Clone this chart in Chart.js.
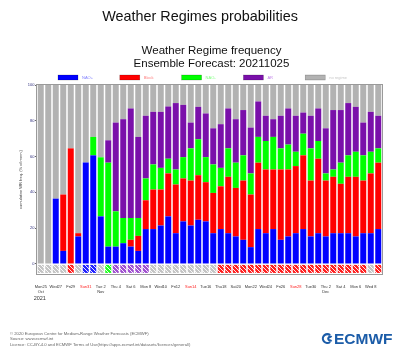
<!DOCTYPE html>
<html><head><meta charset="utf-8">
<script src="https://cdn.jsdelivr.net/npm/chart.js@4.4.1/dist/chart.umd.min.js"></script>
<style>html,body{margin:0;padding:0;background:#fff}</style>
</head><body>
<canvas id="c" width="400" height="360"></canvas>
<script>
// ---- data ----
const days = ['Mon25','Tue26','Wed27','Thu28','Fri29','Sat30','Sun31','Mon 1','Tue 2','Wed 3','Thu 4','Fri 5','Sat 6','Sun 7','Mon 8','Tue 9','Wed10','Thu11','Fri12','Sat13','Sun14','Mon15','Tue16','Wed17','Thu18','Fri19','Sat20','Sun21','Mon22','Tue23','Wed24','Thu25','Fri26','Sat27','Sun28','Mon29','Tue30','Wed 1','Thu 2','Fri 3','Sat 4','Sun 5','Mon 6','Tue 7','Wed 8','Thu 9'];
const monthIndex = [0, 8, 38];
const monthNames = ['Oct', 'Nov', 'Dec'];
const yearLabel = '2021';
const regimeNames = ['NAO+', 'Block', 'NAO-', 'AR', 'no regime'];
const naoPlus  = [0,0,36.5,7.3,0,15.4,56.7,60.7,26.6,9.7,9.7,11.6,9.7,7.3,19.5,19.5,21.5,26.6,17.2,23.8,21.5,24.7,23.8,17.2,19.5,17.2,15.4,13.5,9.4,19.5,17.2,19.5,13.5,15.4,17.2,19.5,15.4,17.2,15.4,17.2,17.2,17.2,15.4,17.2,17.2,19.5];
const block    = [0,0,0,31.5,64.6,1.8,0,0,0,0,0,0,3.8,8.4,16.1,22.1,20.1,24,27.2,24,25.1,24.9,21.9,22.5,23.9,31.5,27.1,33.1,29.4,37.1,35.6,33.3,39.3,37.4,37.5,41.2,31.2,41.6,31.2,31.5,27.6,31.5,33.3,29.4,33.4,37.1];
const naoMinus = [0,0,0,0,0,0,0,10.3,33,46.9,19.7,14.1,12.2,10,12.2,14,12.1,8.2,8.4,11.9,18,20.1,14,15.9,10.3,15.9,14.1,14.1,11.8,14.4,15.9,18.2,11.8,13.9,8,12.1,18,9.9,4,4.1,11.8,12,14,14.1,12.1,8];
const atlRidge = [0,0,0,0,0,0,0,0,0,12.5,49.6,55.2,61.2,45.3,35,29.4,31.3,29.2,37.1,29.2,14.4,18.1,24.4,20.2,24.4,22.3,24.3,25.3,25.6,19.8,14.1,9.9,18.2,20.2,20.1,11.8,18.2,18.2,25.2,33.2,29.4,29.2,25.1,18.3,22.3,18.2];
const noRegime = [100,100,63.5,61.2,35.4,82.8,43.3,29,40.4,30.9,21,19.1,13.1,29,17.2,15,15,12,10.1,11.1,21,12.2,15.9,24.2,21.9,13.1,19.1,14,23.8,9.2,17.2,19.1,17.2,13.1,17.2,15.4,17.2,13.1,24.2,14,14,10.1,12.2,21,15,17.2];
// dominant regime marker shown under each day
const dailyRegime = ['none','none','none','none','Block','none','NAO+','NAO+','none','NAO-','AR','AR','AR','AR','AR','none','none','none','none','none','none','none','none','none','Block','Block','Block','Block','Block','Block','Block','Block','Block','Block','Block','Block','Block','Block','Block','Block','Block','Block','Block','Block','none','Block'];
const yTicks = [0, 20, 40, 60, 80, 100];

// ---- styles ----
Chart.defaults.font.family = "'Liberation Sans', Arial, sans-serif";
const barColors = {'NAO+':'#0000ff','Block':'#ff0000','NAO-':'#00ff00','AR':'#7a10aa','no regime':'#b2b2b2'};
const legendText = {'NAO+':'#8080ff','Block':'#ff8080','NAO-':'#80ff80','AR':'#c080e8','no regime':'#c8c8c8'};
const hatchBase = {'NAO+':'#2020ff','Block':'#ff2020','NAO-':'#20ff20','AR':'#a050d0','none':'#c4c4c4'};

function makePattern(color){
  const p = document.createElement('canvas'); p.width = 4; p.height = 4;
  const g = p.getContext('2d');
  g.fillStyle = color; g.fillRect(0,0,4,4);
  g.strokeStyle = 'rgba(255,255,255,0.9)'; g.lineWidth = 1;
  g.beginPath(); g.moveTo(-1,-1); g.lineTo(5,5); g.moveTo(3,-1); g.lineTo(5,1); g.moveTo(-1,3); g.lineTo(1,5); g.stroke();
  return document.getElementById('c').getContext('2d').createPattern(p,'repeat');
}
const patterns = {};
Object.keys(hatchBase).forEach(k => patterns[k] = makePattern(hatchBase[k]));

const series = [naoPlus, block, naoMinus, atlRidge, noRegime];
const datasets = series.map((d, i) => ({
  label: regimeNames[i], data: d, stack: 'main',
  backgroundColor: barColors[regimeNames[i]], borderWidth: 0,
  barPercentage: 0.8, categoryPercentage: 1.0
}));
datasets.push({
  label: 'marker', data: dailyRegime.map(() => [-5.0, -0.5]), stack: 'strip', grouped: false,
  backgroundColor: dailyRegime.map(r => patterns[r]), borderWidth: 0,
  barPercentage: 0.8, categoryPercentage: 1.0
});

const decor = {
  id: 'decor',
  beforeDraw(chart){ const c = chart.ctx; c.save(); c.fillStyle = '#fff'; c.fillRect(0,0,chart.width,chart.height); c.restore(); },
  afterDraw(chart){
    const c = chart.ctx, a = chart.chartArea;
    c.save();
    // frame
    c.strokeStyle = '#9a9a9a'; c.lineWidth = 1;
    c.strokeRect(a.left - 0.5, a.top - 0.5, a.right - a.left + 1, a.bottom - a.top + 1);
    // titles
    c.fillStyle = '#111'; c.textAlign = 'center'; c.textBaseline = 'alphabetic';
    c.font = "14.4px 'Liberation Sans', Arial, sans-serif";
    c.fillText('Weather Regimes probabilities', 200, 20.5);
    c.font = "11.5px 'Liberation Sans', Arial, sans-serif";
    c.fillText('Weather Regime frequency', 211.5, 53.5);
    c.fillText('Ensemble Forecast: 20211025', 211.5, 66.5);
    // legend
    c.textAlign = 'left'; c.textBaseline = 'middle';
    c.font = "4px 'Liberation Sans', Arial, sans-serif";
    regimeNames.forEach((n, i) => {
      const x = 58 + i * 61.8;
      c.fillStyle = barColors[n]; c.fillRect(x, 75, 20, 5);
      c.strokeStyle = 'rgba(0,0,0,0.35)'; c.lineWidth = 0.5; c.strokeRect(x, 75, 20, 5);
      c.fillStyle = legendText[n]; c.fillText(n, x + 24, 77.7);
    });
    // year
    c.textAlign = 'center'; c.fillStyle = '#333';
    c.font = "5.5px 'Liberation Sans', Arial, sans-serif";
    c.fillText(yearLabel, chart.scales.x.getPixelForValue(0) - 1, 298);
    // footer
    c.textAlign = 'left'; c.textBaseline = 'alphabetic'; c.fillStyle = '#666';
    c.font = "4.2px 'Liberation Sans', Arial, sans-serif";
    c.fillText('\u00a9 2020 European Centre for Medium-Range Weather Forecasts (ECMWF)', 10, 335);
    c.fillText('Source: www.ecmwf.int', 10, 340.3);
    c.fillText('Licence: CC-BY-4.0 and ECMWF Terms of Use(https://apps.ecmwf.int/datasets/licences/general/)', 10, 345.6);
    // logo
    const blue = '#1b5ca8';
    c.strokeStyle = blue; c.lineWidth = 2.2;
    c.beginPath(); c.arc(327.3, 338.6, 4.4, 0.28*Math.PI, 1.72*Math.PI); c.stroke();
    c.beginPath(); c.arc(330.3, 338.6, 2.0, 0.28*Math.PI, 1.72*Math.PI); c.stroke();
    c.fillStyle = blue; c.font = "bold 15.5px 'Liberation Sans', Arial, sans-serif";
    c.fillText('ECMWF', 334, 344.2);
    c.restore();
  }
};

new Chart(document.getElementById('c'), {
  type: 'bar',
  data: { labels: days, datasets },
  plugins: [decor],
  options: {
    responsive: false, animation: false,
    layout: { padding: { top: 85, right: 18, bottom: 0, left: 0 } },
    plugins: { legend: { display: false }, tooltip: { enabled: false }, title: { display: false } },
    scales: {
      x: {
        stacked: true,
        grid: { display: false, drawTicks: false }, border: { display: false },
        ticks: {
          autoSkip: false, maxRotation: 0, minRotation: 0, padding: 10,
          font: { size: 4, lineHeight: 1.3 },
          color: (ctx) => (days[ctx.index] || '').startsWith('Sun') ? '#ff2020' : '#333',
          callback: (v, i) => {
            if (i % 2) return '';
            const m = monthIndex.indexOf(i);
            return m >= 0 ? [days[i], monthNames[m]] : days[i];
          }
        },
        afterFit: (s) => { s.height = 86; }
      },
      y: {
        stacked: true, min: -5.6, max: 100,
        grid: { drawOnChartArea: false, tickLength: 2, color: '#666' }, border: { display: false },
        afterBuildTicks: (s) => { s.ticks = yTicks.map(v => ({ value: v })); },
        ticks: { padding: 0.5, font: { size: 4 }, color: '#333380' },
        title: { display: true, text: 'cumulative WR freq. (% of mem.)', font: { size: 4 }, color: '#444', padding: { top: 18.6, bottom: 0 } },
        afterFit: (s) => { s.width = 37; }
      }
    }
  }
});
</script>
</body></html>
